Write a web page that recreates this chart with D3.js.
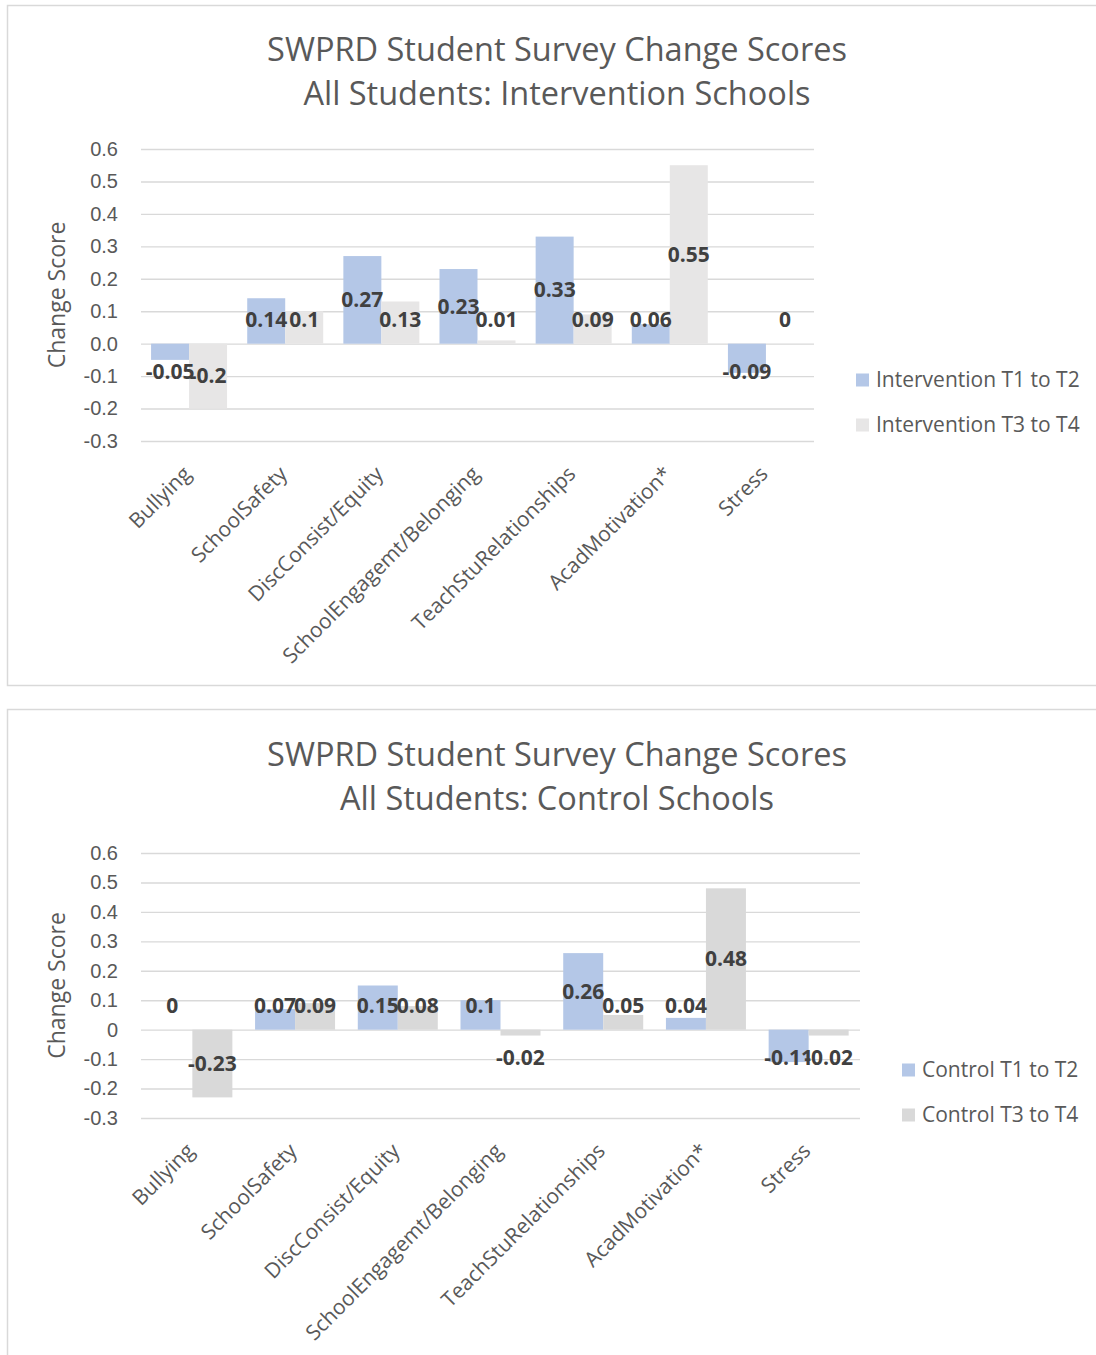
<!DOCTYPE html>
<html lang="en">
  <head>
    <meta charset="utf-8">
    <title>SWPRD Student Survey Change Scores</title>
    <script type="text/javascript" src="https://cdn.jsdelivr.net/npm/d3@7"></script>
    <style>
    body{
      margin:0;
      background:#fff;
    }
    svg{
      display:block;
      font-family:"Open Sans",sans-serif;
    }
    .grid line{
      stroke:#d9d9d9;
      stroke-width:1.4px;
    }
    .grid path{
      display:none;
    }
    .ytick text{
      fill:#595959;
      font-size:20px;
    }
    .ytick path,
    .ytick line{
      display:none;
    }
    .title{
      fill:#595959;
      font-size:32.5px;
    }
    .ylabel{
      fill:#595959;
      font-size:23px;
    }
    .cat{
      fill:#595959;
      font-size:21px;
    }
    .val{
      fill:#404040;
      font-size:21px;
      font-weight:bold;
    }
    .legend text{
      fill:#595959;
      font-size:21px;
    }
    </style>
  </head>
  <body>
    <svg></svg>
    <script type="text/javascript">
      var categories=["Bullying","SchoolSafety","DiscConsist/Equity","SchoolEngagemt/Belonging",
                      "TeachStuRelationships","AcadMotivation*","Stress"];
      var interventionT1T2=[-0.05,0.14,0.27,0.23,0.33,0.06,-0.09];
      var interventionT3T4=[-0.2,0.1,0.13,0.01,0.09,0.55,0];
      var controlT1T2=[0,0.07,0.15,0.1,0.26,0.04,-0.11];
      var controlT3T4=[-0.23,0.09,0.08,-0.02,0.05,0.48,-0.02];
      var yTicks=[-0.3,-0.2,-0.1,0,0.1,0.2,0.3,0.4,0.5,0.6];
      var yTickLabelsTop=["-0.3","-0.2","-0.1","0.0","0.1","0.2","0.3","0.4","0.5","0.6"];
      var yTickLabelsBottom=["-0.3","-0.2","-0.1","0","0.1","0.2","0.3","0.4","0.5","0.6"];

      var width=1096;
      var height=1355;
      var blue="#b4c7e7";

      var svg=d3.select("svg")
                .attr("width",width)
                .attr("height",height);

      function drawChart(c){
        var g=svg.append("g");
        // chart frame
        g.append("rect")
         .attr("x",7.5)
         .attr("y",c.frameTop+0.5)
         .attr("width",1100)
         .attr("height",c.frameHeight)
         .attr("fill","none")
         .attr("stroke","#d9d9d9")
         .attr("stroke-width",1.5);

        g.append("text")
         .attr("class","title")
         .attr("x",557)
         .attr("y",c.titleY)
         .attr("text-anchor","middle")
         .text("SWPRD Student Survey Change Scores");
        g.append("text")
         .attr("class","title")
         .attr("x",557)
         .attr("y",c.titleY+44)
         .attr("text-anchor","middle")
         .text(c.subtitle);

        var xscale=d3.scaleBand()
                     .domain(categories)
                     .range([c.left,c.right]);
        var pad=(xscale.bandwidth()-2*c.barW)/2;
        var sscale=d3.scaleBand()
                     .domain([0,1])
                     .range([pad,pad+2*c.barW]);
        var yscale=d3.scaleLinear()
                     .domain([-0.3,0.6])
                     .range([c.bottom,c.top]);

        var grid=d3.axisLeft(yscale)
                   .tickValues(yTicks)
                   .tickSize(-(c.right-c.left))
                   .tickFormat("");
        g.append("g")
         .attr("class","grid")
         .attr("transform","translate("+c.left+",0)")
         .call(grid);

        var yAxis=d3.axisLeft(yscale)
                    .tickValues(yTicks)
                    .tickSize(0)
                    .tickPadding(23)
                    .tickFormat(function(d,i){return c.tickLabels[i];});
        g.append("g")
         .attr("class","ytick")
         .attr("transform","translate("+c.left+",0)")
         .call(yAxis);

        g.append("text")
         .attr("class","ylabel")
         .attr("transform","translate(57,"+((c.top+c.bottom)/2)+") rotate(-90)")
         .attr("text-anchor","middle")
         .attr("dy","0.35em")
         .text("Change Score");

        var series=[c.s1,c.s2];
        var colors=[blue,c.grey];
        var zero=yscale(0);

        series.forEach(function(vals,si){
          var sg=g.append("g");
          sg.selectAll("rect")
            .data(vals)
            .enter()
            .append("rect")
            .attr("x",function(d,i){return xscale(categories[i])+sscale(si);})
            .attr("width",sscale.bandwidth())
            .attr("y",function(d){return yscale(Math.max(0,d));})
            .attr("height",function(d){return Math.abs(yscale(d)-zero);})
            .attr("fill",colors[si]);
        });

        series.forEach(function(vals,si){
          g.append("g")
           .selectAll("text")
           .data(vals)
           .enter()
           .append("text")
           .attr("class","val")
           .attr("text-anchor","middle")
           .attr("dy","0.35em")
           .attr("x",function(d,i){return xscale(categories[i])+sscale(si)+sscale.bandwidth()/2;})
           .attr("y",function(d){
             var mid=(yscale(d)+zero)/2;
             if(d>=0) return Math.min(mid,zero-24);
             return Math.max(mid,zero+28);
           })
           .text(function(d){return String(d);});
        });

        g.append("g")
         .selectAll("text")
         .data(categories)
         .enter()
         .append("text")
         .attr("class","cat")
         .attr("text-anchor","end")
         .attr("dy","0.35em")
         .attr("transform",function(d){
           var x=xscale(d)+xscale.bandwidth()/2-2;
           return "translate("+x+","+(c.bottom+29)+") rotate(-45)";
         })
         .text(function(d){return d;});

        var lg=g.append("g").attr("class","legend");
        c.names.forEach(function(n,i){
          lg.append("rect")
            .attr("x",c.legendX)
            .attr("y",c.legendY+i*45-6.5)
            .attr("width",13)
            .attr("height",13)
            .attr("fill",colors[i]);
          lg.append("text")
            .attr("x",c.legendX+20)
            .attr("y",c.legendY+i*45)
            .attr("dy","0.35em")
            .text(n);
        });
      }

      drawChart({
        frameTop:5,frameHeight:680,titleY:61,
        subtitle:"All Students: Intervention Schools",
        left:141,right:814,top:149,bottom:441,barW:38,
        tickLabels:yTickLabelsTop,
        s1:interventionT1T2,s2:interventionT3T4,grey:"#e7e6e6",
        names:["Intervention T1 to T2","Intervention T3 to T4"],
        legendX:856,legendY:380
      });
      drawChart({
        frameTop:709,frameHeight:700,titleY:766,
        subtitle:"All Students: Control Schools",
        left:141,right:860,top:853,bottom:1118,barW:40,
        tickLabels:yTickLabelsBottom,
        s1:controlT1T2,s2:controlT3T4,grey:"#d9d9d9",
        names:["Control T1 to T2","Control T3 to T4"],
        legendX:902,legendY:1070
      });
    </script>
  </body>
</html>
